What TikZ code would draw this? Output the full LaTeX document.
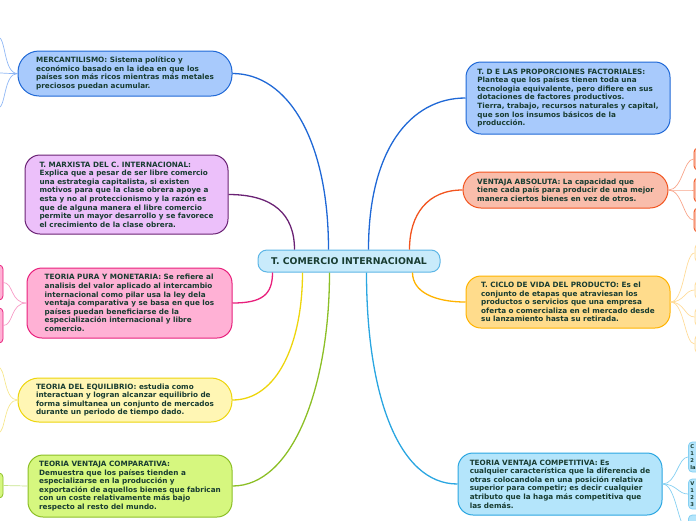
\documentclass[tikz,border=0pt]{standalone}
\usepackage{fontspec}
\setmainfont{DejaVu Sans}
\usetikzlibrary{calc}
\definecolor{txtDark}{HTML}{183C31}
\definecolor{rootFill}{HTML}{C9EBFB}
\definecolor{rootLine}{HTML}{5DB6E6}
\definecolor{blueFill}{HTML}{A8CAFC}
\definecolor{blueLine}{HTML}{1F68D6}
\definecolor{blueTwig}{HTML}{8FB7F5}
\definecolor{purpFill}{HTML}{ECC0FA}
\definecolor{purpLine}{HTML}{6A2274}
\definecolor{pinkFill}{HTML}{FFB1D5}
\definecolor{pinkLine}{HTML}{E8207C}
\definecolor{pinkTwig}{HTML}{F79AC6}
\definecolor{yellFill}{HTML}{FFF6B4}
\definecolor{yellLine}{HTML}{EDD50C}
\definecolor{yellTwig}{HTML}{F6E78E}
\definecolor{limeFill}{HTML}{D6F77F}
\definecolor{limeLine}{HTML}{8CBF26}
\definecolor{limeTwig}{HTML}{C6E48A}
\definecolor{salmFill}{HTML}{F9BDAB}
\definecolor{salmLine}{HTML}{F2541F}
\definecolor{salmTwig}{HTML}{F8A48A}
\definecolor{goldFill}{HTML}{FFDC8C}
\definecolor{goldLine}{HTML}{FFB300}
\definecolor{goldTwig}{HTML}{FFDC9A}
\definecolor{goldKid}{HTML}{FFF8E6}
\definecolor{cyanFill}{HTML}{B4E5FB}
\definecolor{cyanLine}{HTML}{2AA6E1}
\definecolor{cyanTwig}{HTML}{85D0F2}

\begin{document}
\begin{tikzpicture}[x=1pt,y=-1pt,
  box/.style={draw,line width=1pt,rounded corners=15pt,align=left,text=txtDark,
    font=\fontsize{7.25}{8.6}\selectfont\bfseries,inner sep=0pt},
  kid/.style={draw,line width=0.8pt,rounded corners=4pt,minimum width=40pt,inner sep=0pt},
  kidtext/.style={align=left,text=txtDark,font=\fontsize{5.2}{6.9}\selectfont\bfseries,
    text width=36pt,inner xsep=2pt},
  link/.style={line width=1.3pt},
  twig/.style={line width=0.7pt}]
\useasboundingbox (0,0) rectangle (696,520);
\clip (0,0) rectangle (696,520);

% centre
\node[box,fill=rootFill,draw=rootLine,rounded corners=9pt,minimum width=182pt,minimum height=22pt,
  font=\fontsize{9.3}{10}\selectfont\bfseries,align=center] (root) at (349,261) {T. COMERCIO INTERNACIONAL};

% left side
\node[box,fill=blueFill,draw=blueLine,rounded corners=21pt,minimum width=214pt,minimum height=45pt] (merc) at (125,73.5)
{MERCANTILISMO: Sistema político y\\económico basado en la idea en que los\\países son más ricos mientras más metales\\preciosos puedan acumular.};
\node[box,fill=purpFill,draw=purpLine,minimum width=203pt,minimum height=79pt] (marx) at (126.5,194.5)
{T. MARXISTA DEL C. INTERNACIONAL:\\Explica que a pesar de ser libre comercio\\una estrategia capitalista, si existen\\motivos para que la clase obrera apoye a\\esta y no al proteccionismo y la razón es\\que de alguna manera el libre comercio\\permite un mayor desarrollo y se favorece\\el crecimiento de la clase obrera.};
\node[box,fill=pinkFill,draw=pinkLine,minimum width=205pt,minimum height=70pt] (pura) at (129.5,303)
{TEORIA PURA Y MONETARIA: Se refiere al\\analisis del valor aplicado al intercambio\\internacional como pilar usa la ley dela\\ventaja comparativa y se basa en que los\\países puedan beneficiarse de la\\especialización internacional y libre\\comercio.};
\node[box,fill=yellFill,draw=yellLine,rounded corners=21pt,minimum width=214pt,minimum height=44pt] (equi) at (125,400)
{TEORIA DEL EQUILIBRIO: estudia como\\interactuan y logran alcanzar equilibrio de\\forma simultanea un conjunto de mercados\\durante un periodo de tiempo dado.};
\node[box,fill=limeFill,draw=limeLine,minimum width=204pt,minimum height=62pt] (comp) at (130,486)
{TEORIA VENTAJA COMPARATIVA:\\Demuestra que los países tienden a\\especializarse en la producción y\\exportación de aquellos bienes que fabrican\\con un coste relativamente más bajo\\respecto al resto del mundo.};

% right side
\node[box,fill=blueFill,draw=blueLine,minimum width=204pt,minimum height=72pt] (prop) at (568,98)
{T. D E LAS PROPORCIONES FACTORIALES:\\Plantea que los países tienen toda una\\tecnologia equivalente, pero difiere en sus\\dotaciones de factores productivos.\\Tierra, trabajo, recursos naturales y capital,\\que son los insumos básicos de la\\producción.};
\node[box,fill=salmFill,draw=salmLine,rounded corners=18pt,minimum width=205pt,minimum height=36pt] (abso) at (565.5,190)
{VENTAJA ABSOLUTA: La capacidad que\\tiene cada país para producir de una mejor\\manera ciertos bienes en vez de otros.};
\node[box,fill=goldFill,draw=goldLine,minimum width=204pt,minimum height=52pt] (ciclo) at (568,302)
{T. CICLO DE VIDA DEL PRODUCTO: Es el\\conjunto de etapas que atraviesan los\\productos o servicios que una empresa\\oferta o comercializa en el mercado desde\\su lanzamiento hasta su retirada.};
\node[box,fill=cyanFill,draw=cyanLine,minimum width=204pt,minimum height=62pt] (compet) at (560,484)
{TEORIA VENTAJA COMPETITIVA: Es\\cualquier característica que la diferencia de\\otras colocandola en una posición relativa\\superior para competir; es decir cualquier\\atributo que la haga más competitiva que\\las demás.};

% branches to the centre
\draw[link,blueLine] (merc.east) .. controls +(55,0) and +(0,-110) .. ($(root.north west)+(71,0)$);
\draw[link,purpLine] (marx.east) .. controls +(45,0) and +(0,-35) .. ($(root.north west)+(37,0)$);
\draw[link,pinkLine] (pura.east) .. controls +(30,0) and +(0,22) .. ($(root.south west)+(15,0)$);
\draw[link,yellLine] (equi.east) .. controls +(45,0) and +(0,70) .. ($(root.south west)+(45,0)$);
\draw[link,limeLine] (comp.east) .. controls +(60,0) and +(0,115) .. ($(root.south west)+(72,0)$);
\draw[link,blueLine] (prop.west) .. controls +(-55,0) and +(0,-100) .. ($(root.north west)+(111,0)$);
\draw[link,salmLine] (abso.west) .. controls +(-35,0) and +(0,-35) .. ($(root.north west)+(152,0)$);
\draw[link,goldLine] (ciclo.west) .. controls +(-30,0) and +(0,20) .. ($(root.south west)+(155,0)$);
\draw[link,cyanLine] (compet.west) .. controls +(-60,0) and +(0,120) .. ($(root.south west)+(109,0)$);

% children cut by the page edge
\node[kid,fill=pinkFill,draw=pinkLine,minimum height=35pt] (kp1) at (-17,282.5) {};
\node[kid,fill=pinkFill,draw=pinkLine,minimum height=35pt] (kp2) at (-17,325.5) {};
\node[kid,fill=limeFill,draw=limeLine,minimum height=25pt] (kg1) at (-17,485.5) {};
\node[kid,fill=salmFill,draw=salmLine,minimum height=22pt] (ka1) at (714,159) {};
\node[kid,fill=salmFill,draw=salmLine,minimum height=24pt] (ka2) at (714,190) {};
\node[kid,fill=salmFill,draw=salmLine,minimum height=24pt] (ka3) at (714,220) {};
\foreach \i/\yy in {1/253,2/290,3/317,4/344}
  \node[kid,fill=goldKid,draw=goldTwig,minimum height=18pt] (kc\i) at (715,\yy) {};
\node[kid,kidtext,fill=cyanFill,draw=cyanTwig,minimum height=30pt,anchor=west] (kt1) at (688,457) {C\\1\\2\\la};
\node[kid,kidtext,fill=cyanFill,draw=cyanTwig,minimum height=30pt,anchor=west] (kt2) at (688,494) {V\\1\\2\\3};
\node[kid,fill=cyanFill,draw=cyanTwig,minimum height=30pt,anchor=west] (kt3) at (688,530) {};

\foreach \i/\yy in {1/37,2/73,3/108}
  \coordinate (m\i) at (-2,\yy);
\coordinate (e1) at (-2,367);
\coordinate (e2) at (-2,433);

% twigs
\foreach \t in {m1,m2,m3}
  \draw[twig,blueTwig] (merc.west) .. controls +(-14,0) and +(8,0) .. (\t);
\foreach \t in {kp1,kp2}
  \draw[twig,pinkTwig] (pura.west) .. controls +(-16,0) and +(10,0) .. (\t.east);
\foreach \t in {e1,e2}
  \draw[twig,yellTwig] (equi.west) .. controls +(-14,0) and +(8,0) .. (\t);
\draw[twig,limeTwig] (comp.west) -- (kg1.east);
\foreach \t in {ka1,ka2,ka3}
  \draw[twig,salmTwig] (abso.east) .. controls +(14,0) and +(-10,0) .. (\t.west);
\foreach \t in {kc1,kc2,kc3,kc4}
  \draw[twig,goldTwig] (ciclo.east) .. controls +(14,0) and +(-10,0) .. (\t.west);
\foreach \t in {kt1,kt2,kt3}
  \draw[twig,cyanTwig] (compet.east) .. controls +(14,0) and +(-10,0) .. (\t.west);
\end{tikzpicture}
\end{document}
